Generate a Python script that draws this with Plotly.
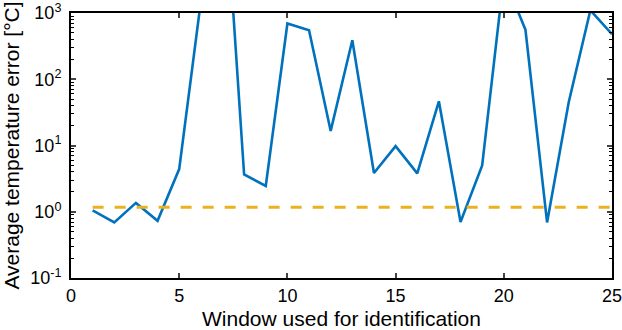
import plotly.graph_objects as go

windows = list(range(1, 26))
avg_error = [1.05, 0.69, 1.36, 0.73, 4.4, 1500, 2.8e5, 3.65, 2.45, 694,
             550, 16.6, 388, 3.85, 9.8, 3.8, 46.5, 0.70, 5.0, 3500,
             560, 0.69, 45, 1100, 478]
threshold = 1.17

x_ticks = [0, 5, 10, 15, 20, 25]
y_ticks = [0.1, 1, 10, 100, 1000]
y_ticktext = ["10<sup>-1</sup>", "10<sup>0</sup>", "10<sup>1</sup>", "10<sup>2</sup>", "10<sup>3</sup>"]
y_minor = [m * d for d in [0.1, 1, 10, 100] for m in range(2, 10)]

fig = go.Figure()
fig.add_trace(go.Scatter(x=windows, y=avg_error, mode="lines",
                         line=dict(color="#0072BD", width=2.6), showlegend=False,
                         hoverinfo="skip"))
fig.add_trace(go.Scatter(x=[windows[0], windows[-1]], y=[threshold, threshold], mode="lines",
                         line=dict(color="#EDB120", width=3, dash="11px,11px"),
                         showlegend=False, hoverinfo="skip"))

font = "Liberation Sans, Arial, Helvetica, sans-serif"
fig.update_layout(
    width=622, height=330,
    margin=dict(l=71, r=10, t=13, b=52),
    plot_bgcolor="white", paper_bgcolor="white",
    hovermode=False,
    font=dict(family=font, size=18, color="black"),
    xaxis=dict(range=[0, 25], tickvals=x_ticks, ticks="inside", ticklen=5,
               tickwidth=1.5, showline=True, linewidth=2, linecolor="black",
               mirror="allticks", showgrid=False, zeroline=False, automargin=False,
               ticklabeloverflow="allow",
               title=dict(text="Window used for identification",
                          font=dict(size=21), standoff=8)),
    yaxis=dict(type="log", range=[-1, 3], tickvals=y_ticks, ticktext=y_ticktext,
               ticks="inside", ticklen=5, tickwidth=1.5, showline=True,
               linewidth=2, linecolor="black", mirror="allticks",
               showgrid=False, zeroline=False, automargin=False,
               ticklabeloverflow="allow", ticklabelstandoff=4,
               minor=dict(tickmode="array", tickvals=y_minor, ticks="inside",
                          ticklen=3, tickwidth=1.2, tickcolor="black", showgrid=False),
               title=dict(text="Average temperature error [°C]",
                          font=dict(size=21), standoff=6)),
)

fig.write_html("out.html", config={"displayModeBar": False},
               post_script="document.body.style.margin='0';")
